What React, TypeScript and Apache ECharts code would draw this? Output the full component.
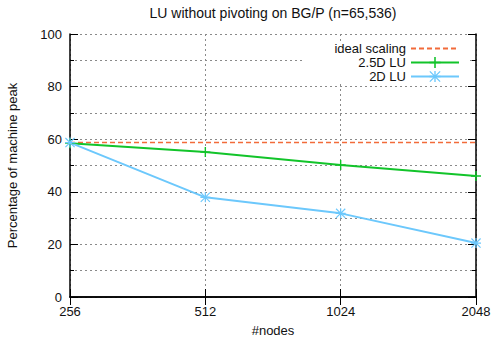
import React, { useEffect, useRef } from "react";
import * as echarts from "echarts";

const categories = ["256", "512", "1024", "2048"];
const idealScaling = [58.7, 58.7, 58.7, 58.7];
const lu25d = [58.5, 55.1, 50.2, 46.0];
const lu2d = [58.7, 37.9, 31.8, 20.5];

const FONT = "Liberation Sans, Arial, sans-serif";
const GRID_LINE = { color: "#8a8a8a", type: [2, 3] as number[], width: 1 };
const PLUS = "path://M4.3 0H5.7V10H4.3Z M0 4.3H10V5.7H0Z";
const STAR =
  "path://M4.4 0H5.6V10H4.4Z M0 4.4H10V5.6H0Z M0 0.8L0.8 0L10 9.2L9.2 10Z M9.2 0L10 0.8L0.8 10L0 9.2Z";

export default function App() {
  const ref = useRef<HTMLDivElement>(null);
  useEffect(() => {
    if (!ref.current) return;
    const chart = echarts.init(ref.current, null, { renderer: "svg" });
    const legendBase = {
      orient: "horizontal",
      align: "right",
      right: 33,
      padding: 0,
      itemWidth: 48,
      itemHeight: 14,
      textStyle: { fontFamily: FONT, fontSize: 13, color: "#111" },
    };
    chart.setOption({
      animation: false,
      backgroundColor: "#fff",
      title: {
        text: "LU without pivoting on BG/P (n=65,536)",
        left: 273,
        top: 6,
        padding: 0,
        textAlign: "center",
        textStyle: { fontFamily: FONT, fontSize: 14, fontWeight: "normal", color: "#111" },
      },
      grid: { left: 70, right: 17, top: 34, bottom: 41, outerBoundsMode: "none", containLabel: false },
      legend: [
        {
          ...legendBase,
          top: 42,
          data: [{ name: "ideal scaling", itemStyle: { opacity: 0 } }],
        },
        { ...legendBase, top: 56, data: ["2.5D LU"] },
        { ...legendBase, top: 70, data: ["2D LU"] },
      ],
      graphic: [
        {
          type: "rect",
          z: 1,
          shape: { x: 303, y: 42, width: 164, height: 41 },
          style: { fill: "#fff" },
        },
      ],
      xAxis: [
        {
          type: "category",
          data: categories,
          boundaryGap: false,
          name: "#nodes",
          nameLocation: "middle",
          nameGap: 27,
          nameTextStyle: { fontFamily: FONT, fontSize: 13, lineHeight: 12, color: "#111" },
          axisLine: { lineStyle: { color: "#000", width: 1.5 } },
          axisTick: { inside: true, length: 8, lineStyle: { color: "#000" } },
          axisLabel: { fontFamily: FONT, fontSize: 13, color: "#111", margin: 8 },
          splitLine: { show: true, lineStyle: GRID_LINE },
        },
        {
          type: "category",
          data: categories,
          boundaryGap: false,
          position: "top",
          axisLine: { lineStyle: { color: "#000", width: 1.5 } },
          axisTick: { inside: true, length: 8, lineStyle: { color: "#000" } },
          axisLabel: { show: false },
          splitLine: { show: false },
        },
      ],
      yAxis: [
        {
          type: "value",
          min: 0,
          max: 100,
          interval: 20,
          name: "Percentage of machine peak",
          nameLocation: "middle",
          nameGap: 51,
          nameTextStyle: { fontFamily: FONT, fontSize: 13, color: "#111" },
          axisLine: { show: true, lineStyle: { color: "#000", width: 1.5 } },
          axisTick: { show: true, inside: true, length: 8, lineStyle: { color: "#000" } },
          minorTick: { show: true, splitNumber: 2, length: 4, lineStyle: { color: "#000" } },
          axisLabel: { fontFamily: FONT, fontSize: 13, color: "#111", margin: 8 },
          splitLine: { show: true, lineStyle: GRID_LINE },
          minorSplitLine: { show: true, lineStyle: GRID_LINE },
        },
        {
          type: "value",
          min: 0,
          max: 100,
          interval: 20,
          position: "right",
          axisLine: { show: true, lineStyle: { color: "#000", width: 1.5 } },
          axisTick: { show: true, inside: true, length: 8, lineStyle: { color: "#000" } },
          minorTick: { show: true, splitNumber: 2, length: 4, lineStyle: { color: "#000" } },
          axisLabel: { show: false },
          splitLine: { show: false },
        },
      ],
      series: [
        {
          name: "ideal scaling",
          type: "line",
          data: idealScaling,
          symbol: "none",
          color: "#f26b3a",
          lineStyle: { color: "#f26b3a", width: 1.5, type: [5, 3] },
        },
        {
          name: "2.5D LU",
          type: "line",
          data: lu25d,
          symbol: PLUS,
          symbolSize: 10,
          color: "#12c42a",
          itemStyle: { color: "#12c42a" },
          lineStyle: { color: "#12c42a", width: 2 },
        },
        {
          name: "2D LU",
          type: "line",
          data: lu2d,
          symbol: STAR,
          symbolSize: 10,
          color: "#6cc8fc",
          itemStyle: { color: "#6cc8fc" },
          lineStyle: { color: "#6cc8fc", width: 2 },
        },
      ],
    });
    return () => chart.dispose();
  }, []);
  return (
    <div
      ref={ref}
      style={{ position: "fixed", left: 0, top: 0, width: 493, height: 338 }}
    />
  );
}
